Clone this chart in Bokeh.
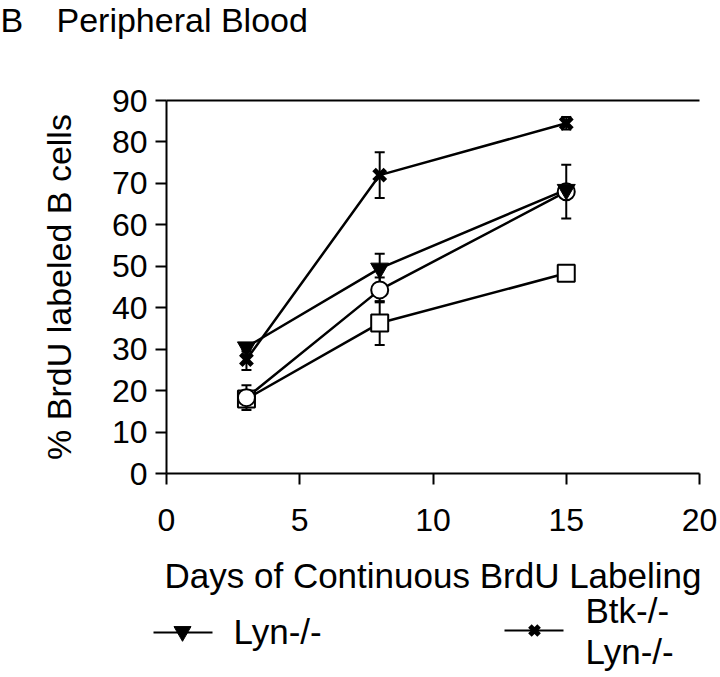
from bokeh.plotting import figure
from bokeh.models import Range1d, FixedTicker, LinearAxis, Whisker, TeeHead, ColumnDataSource
from bokeh.core.properties import value
from bokeh.embed import file_html
from bokeh.resources import INLINE

# ---------------- data ----------------
days = [3, 8, 15]
lyn = [30.5, 49.5, 68.5]            # filled inverted triangles
lyn_err = [1.0, 3.5, 1.0]
btk_lyn = [27.5, 72.0, 84.5]        # bold x
btk_lyn_err = [2.5, 5.5, 1.5]
wt = [18.3, 44.3, 68.0]             # open circles
wt_err = [3.0, 3.0, 6.5]
btk = [18.0, 36.3, 48.3]            # open squares
btk_err = [2.0, 5.3, 1.0]

x_ticks = [0, 5, 10, 15, 20]
y_ticks = [0, 10, 20, 30, 40, 50, 60, 70, 80, 90]
x_lim = (0, 20)
y_lim = (0, 90)
title_letter = "B"
title_text = "Peripheral Blood"
x_label = "Days of Continuous BrdU Labeling"
y_label = "% BrdU labeled B cells"
legend_lyn = ["Lyn-/-"]
legend_btk_lyn = ["Btk-/-", "Lyn-/-"]

FONT = "Liberation Sans"
W, H = 720, 677
# where the axes box sits on the canvas (pixels)
FL, FR, FT, FB = 166, 699, 100, 473
XS = (x_lim[1] - x_lim[0]) / (FR - FL)      # data units per pixel
YS = (y_lim[1] - y_lim[0]) / (FB - FT)


def dx(px):
    return x_lim[0] + (px - FL) * XS


def dy(py):
    return y_lim[0] + (FB - py) * YS


def dy_text(py, size):
    # text glyph baseline lands ~0.33em lower than requested; compensate
    return dy(py - 0.33 * size)


p = figure(width=W, height=H,
           x_range=Range1d(dx(0), dx(W)), y_range=Range1d(dy(H), dy(0)),
           output_backend="svg", toolbar_location=None, min_border=0,
           x_axis_label=x_label, y_axis_label=y_label)
p.title.visible = False
p.grid.visible = False
p.outline_line_color = None

for ax in (p.xaxis[0], p.yaxis[0]):
    ax.axis_line_width = 2
    ax.axis_line_color = "black"
    ax.major_tick_line_width = 2
    ax.major_tick_line_color = "black"
    ax.major_tick_in = 0
    ax.major_tick_out = 11
    ax.minor_tick_line_color = None
    ax.major_label_text_font = FONT
    ax.major_label_text_font_size = "32px"
    ax.major_label_text_color = "black"
    ax.axis_label_text_font = FONT
    ax.axis_label_text_font_style = "normal"
    ax.axis_label_text_color = "black"

p.xaxis[0].fixed_location = y_lim[0]
p.yaxis[0].fixed_location = x_lim[0]
p.xaxis[0].bounds = x_lim
p.yaxis[0].bounds = y_lim
p.xaxis[0].axis_label_text_font_size = "35px"
p.yaxis[0].axis_label_text_font_size = "34px"
p.xaxis[0].ticker = FixedTicker(ticks=x_ticks)
p.yaxis[0].ticker = FixedTicker(ticks=y_ticks)
p.xaxis[0].major_label_standoff = 24
p.xaxis[0].axis_label_standoff = 22
p.yaxis[0].major_label_standoff = 8
p.yaxis[0].axis_label_standoff = 31

top_axis = LinearAxis(ticker=FixedTicker(ticks=[]), fixed_location=y_lim[1], bounds=x_lim,
                      axis_line_width=2, axis_line_color="black",
                      major_tick_line_color=None, minor_tick_line_color=None,
                      major_label_text_color=None)
p.add_layout(top_axis, "above")

series = [
    (btk, btk_err),
    (wt, wt_err),
    (lyn, lyn_err),
    (btk_lyn, btk_lyn_err),
]

for vals, errs in series:
    p.line(days, vals, line_width=2.5, line_color="black")

for vals, errs in series:
    src = ColumnDataSource(dict(x=days,
                                upper=[v + e for v, e in zip(vals, errs)],
                                lower=[v - e for v, e in zip(vals, errs)]))
    w = Whisker(source=src, base="x", upper="upper", lower="lower", dimension="height",
                line_width=2, line_color="black",
                upper_head=TeeHead(size=10, line_width=2, line_color="black"),
                lower_head=TeeHead(size=10, line_width=2, line_color="black"),
                level="underlay")
    p.add_layout(w)

p.scatter(days, btk, marker="square", size=17, fill_color="white", line_color="black", line_width=2)
p.scatter(days, wt, marker="circle", size=17, fill_color="white", line_color="black", line_width=2)
p.scatter(days, lyn, marker="inverted_triangle", size=18, fill_color="black",
          line_color="black", line_width=1)
p.scatter(days, btk_lyn, marker="x", size=16, line_color="black", line_width=5)

# ---------------- title ----------------
TS = 34
p.text(x=[dx(0), dx(56)], y=[dy_text(31, TS), dy_text(31, TS)], text=[title_letter, title_text],
       text_font=value(FONT), text_font_size=f"{TS}px", text_baseline="alphabetic",
       text_align="left", text_color="black")

# ---------------- legend ----------------
LS = 35
p.segment(x0=[dx(153), dx(504)], y0=[dy(632), dy(630)], x1=[dx(212), dx(563)], y1=[dy(632), dy(630)],
          line_width=2, line_color="black")
p.scatter([dx(182)], [dy(631)], marker="inverted_triangle", size=17, fill_color="black", line_color="black")
p.scatter([dx(534)], [dy(630)], marker="x", size=13, line_color="black", line_width=5)
p.text(x=[dx(233), dx(585), dx(585)],
       y=[dy_text(643, LS), dy_text(622, LS), dy_text(663, LS)],
       text=legend_lyn + legend_btk_lyn,
       text_font=value(FONT), text_font_size=f"{LS}px", text_baseline="alphabetic",
       text_align="left", text_color="black")

open("out.html", "w").write(file_html(p, INLINE))
